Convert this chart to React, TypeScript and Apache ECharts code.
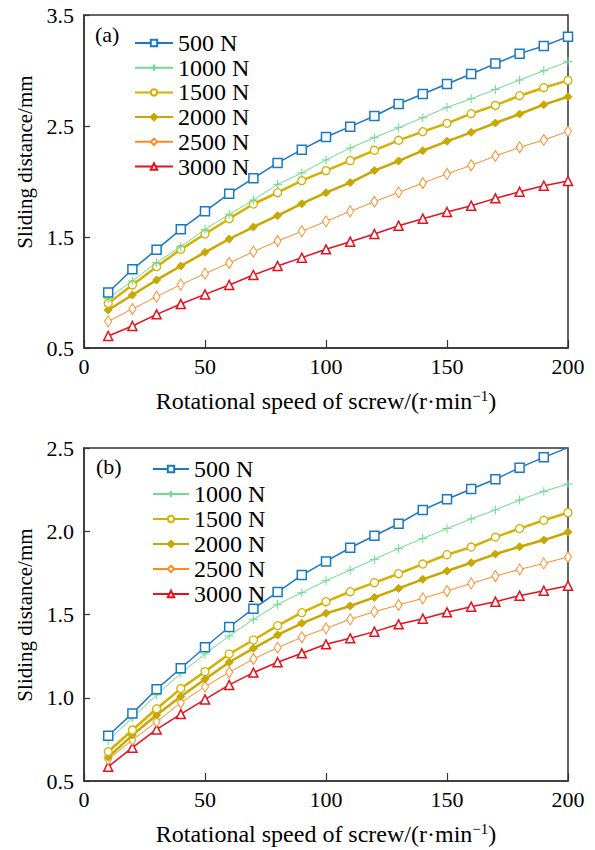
import React, { useEffect, useRef } from "react";
import * as echarts from "echarts";

const speeds = [10, 20, 30, 40, 50, 60, 70, 80, 90, 100, 110, 120, 130, 140, 150, 160, 170, 180, 190, 200];
const loadNames = ["500 N", "1000 N", "1500 N", "2000 N", "2500 N", "3000 N"];

// (a)
const a500 = [1.0, 1.209, 1.386, 1.569, 1.731, 1.89, 2.029, 2.167, 2.287, 2.401, 2.494, 2.59, 2.698, 2.788, 2.878, 2.968, 3.062, 3.152, 3.221, 3.305];
const a1000 = [0.947, 1.104, 1.269, 1.413, 1.569, 1.704, 1.833, 1.974, 2.077, 2.194, 2.302, 2.395, 2.485, 2.575, 2.668, 2.746, 2.83, 2.914, 2.998, 3.08];
const a1500 = [0.902, 1.068, 1.233, 1.389, 1.527, 1.665, 1.797, 1.899, 2.008, 2.098, 2.188, 2.281, 2.371, 2.449, 2.524, 2.611, 2.686, 2.773, 2.845, 2.911];
const a2000 = [0.842, 0.977, 1.113, 1.239, 1.362, 1.482, 1.59, 1.692, 1.8, 1.899, 1.99, 2.098, 2.185, 2.278, 2.362, 2.443, 2.527, 2.608, 2.692, 2.764];
const a2500 = [0.74, 0.851, 0.962, 1.071, 1.17, 1.266, 1.368, 1.464, 1.551, 1.641, 1.731, 1.818, 1.902, 1.986, 2.068, 2.146, 2.23, 2.308, 2.374, 2.452];
const a3000 = [0.608, 0.698, 0.803, 0.896, 0.983, 1.068, 1.158, 1.239, 1.314, 1.389, 1.458, 1.527, 1.602, 1.665, 1.725, 1.782, 1.848, 1.908, 1.962, 2.005];

// (b)
const b500 = [0.772, 0.906, 1.051, 1.177, 1.303, 1.425, 1.535, 1.635, 1.737, 1.819, 1.901, 1.973, 2.045, 2.128, 2.192, 2.254, 2.312, 2.382, 2.444, 2.502];
const b1000 = [0.742, 0.88, 1.017, 1.147, 1.263, 1.371, 1.471, 1.561, 1.631, 1.703, 1.767, 1.831, 1.897, 1.957, 2.016, 2.074, 2.128, 2.188, 2.24, 2.284];
const b1500 = [0.676, 0.806, 0.934, 1.055, 1.157, 1.263, 1.347, 1.433, 1.511, 1.577, 1.637, 1.691, 1.745, 1.803, 1.859, 1.905, 1.965, 2.016, 2.066, 2.112];
const b2000 = [0.642, 0.776, 0.896, 1.007, 1.111, 1.213, 1.297, 1.377, 1.447, 1.507, 1.551, 1.603, 1.657, 1.711, 1.761, 1.811, 1.863, 1.907, 1.947, 1.994];
const b2500 = [0.63, 0.746, 0.856, 0.97, 1.067, 1.153, 1.233, 1.301, 1.363, 1.417, 1.471, 1.517, 1.557, 1.597, 1.641, 1.687, 1.731, 1.771, 1.807, 1.845];
const b3000 = [0.586, 0.7, 0.81, 0.902, 0.99, 1.077, 1.151, 1.213, 1.267, 1.321, 1.357, 1.397, 1.441, 1.475, 1.513, 1.547, 1.577, 1.613, 1.643, 1.673];

const yTitle = "Sliding distance/mm";

const FONT = "'Liberation Serif', 'Times New Roman', 'DejaVu Serif', serif";

const styles = [
  { color: "#1b78c2", symbol: "rect", size: 9, fill: "#fff", lw: 1.5, bw: 1.5 },
  { color: "#6ddc8e", symbol: "path://M5,0L5,10M0,5L10,5", size: 9, fill: "none", lw: 1, bw: 1 },
  { color: "#d4b000", symbol: "circle", size: 8, fill: "#fff", lw: 2.5, bw: 1.3 },
  { color: "#c8a800", symbol: "diamond", size: 8, fill: "#c8a800", lw: 2.5, bw: 1 },
  { color: "#ff8a24", symbol: "path://M5,0L10,10L5,20L0,10Z", size: [7, 11], fill: "#fff", lw: 1, bw: 1 },
  { color: "#e8101c", symbol: "triangle", size: 9, fill: "#fff", lw: 1.5, bw: 1.5 },
];

function makeSeries(sets: number[][], gi: number) {
  return sets.map((vals, i) => {
    const s = styles[i];
    return {
      type: "line",
      name: loadNames[i],
      xAxisIndex: gi,
      yAxisIndex: gi,
      data: speeds.map((x, k) => [x, vals[k]]),
      symbol: s.symbol,
      symbolSize: s.size,
      showAllSymbol: true,
      lineStyle: { color: s.color, width: s.lw },
      itemStyle: { color: s.fill, borderColor: s.color, borderWidth: s.bw },
      z: 10 - i,
    };
  });
}

export default function App() {
  const ref = useRef<HTMLDivElement>(null);
  useEffect(() => {
    if (!ref.current) return;
    const chart = echarts.init(ref.current, null, { renderer: "svg" });
    const axisLabel = { color: "#000", fontSize: 22, fontFamily: FONT };
    const xAxisBase = (gi: number) => ({
      type: "value",
      gridIndex: gi,
      min: 0,
      max: 200,
      interval: 50,
      name: "{a|Rotational speed of screw/(r·min}{s|−1}{a|)}",
      nameLocation: "middle",
      nameGap: 40,
      nameTextStyle: {
        rich: {
          a: { fontSize: 24, fontFamily: FONT, color: "#000", lineHeight: 26 },
          s: { fontSize: 15, fontFamily: FONT, color: "#000", verticalAlign: "top", lineHeight: 26, padding: [0, 0, 11, 0] },
        },
      },
      axisLine: { lineStyle: { color: "#333", width: 1.5 } },
      axisTick: { inside: true, length: 8, lineStyle: { color: "#333", width: 1.2 } },
      axisLabel: { ...axisLabel, margin: 7 },
      splitLine: { show: false },
    });
    const yAxisBase = (gi: number, min: number, max: number, interval: number, digits: number) => ({
      type: "value",
      gridIndex: gi,
      min,
      max,
      interval,
      axisLine: { lineStyle: { color: "#333", width: 1.5 } },
      axisTick: { inside: true, length: 6, lineStyle: { color: "#333", width: 1.2 } },
      axisLabel: { ...axisLabel, margin: 10, formatter: (v: number) => v.toFixed(digits) },
      splitLine: { show: false },
    });
    const legendBase = (left: number, top: number, w: number, gap: number) => ({
      orient: "vertical",
      left,
      top,
      itemWidth: w,
      itemHeight: 8,
      itemGap: gap,
      data: loadNames,
      textStyle: { fontSize: 24, fontFamily: FONT, color: "#000", lineHeight: 22 },
    });
    const yName = (cy: number) => ({
      type: "text",
      x: 25,
      y: cy,
      rotation: Math.PI / 2,
      style: { text: yTitle, fontSize: 21, fontFamily: FONT, fill: "#000", align: "center", verticalAlign: "middle" },
    });
    chart.setOption({
      animation: false,
      backgroundColor: "#fff",
      grid: [
        { left: 84, top: 15, width: 484, height: 333, show: true, borderColor: "#333", borderWidth: 1.5 },
        { left: 84, top: 448, width: 484, height: 333, show: true, borderColor: "#333", borderWidth: 1.5 },
      ],
      xAxis: [xAxisBase(0), xAxisBase(1)],
      yAxis: [yAxisBase(0, 0.5, 3.5, 1, 1), yAxisBase(1, 0.5, 2.5, 0.5, 1)],
      legend: [legendBase(129, 26, 38, 0.7), legendBase(147, 452, 36, 1)],
      graphic: [
        { type: "text", left: 95, top: 23, style: { text: "(a)", fontSize: 22, fontFamily: FONT, fill: "#000" } },
        { type: "text", left: 96, top: 455, style: { text: "(b)", fontSize: 22, fontFamily: FONT, fill: "#000" } },
        yName(162),
        yName(615),
      ],
      series: [
        ...makeSeries([a500, a1000, a1500, a2000, a2500, a3000], 0),
        ...makeSeries([b500, b1000, b1500, b2000, b2500, b3000], 1),
      ],
    });
    return () => chart.dispose();
  }, []);
  return <div ref={ref} style={{ position: "fixed", left: 0, top: 0, width: 595, height: 850 }} />;
}
